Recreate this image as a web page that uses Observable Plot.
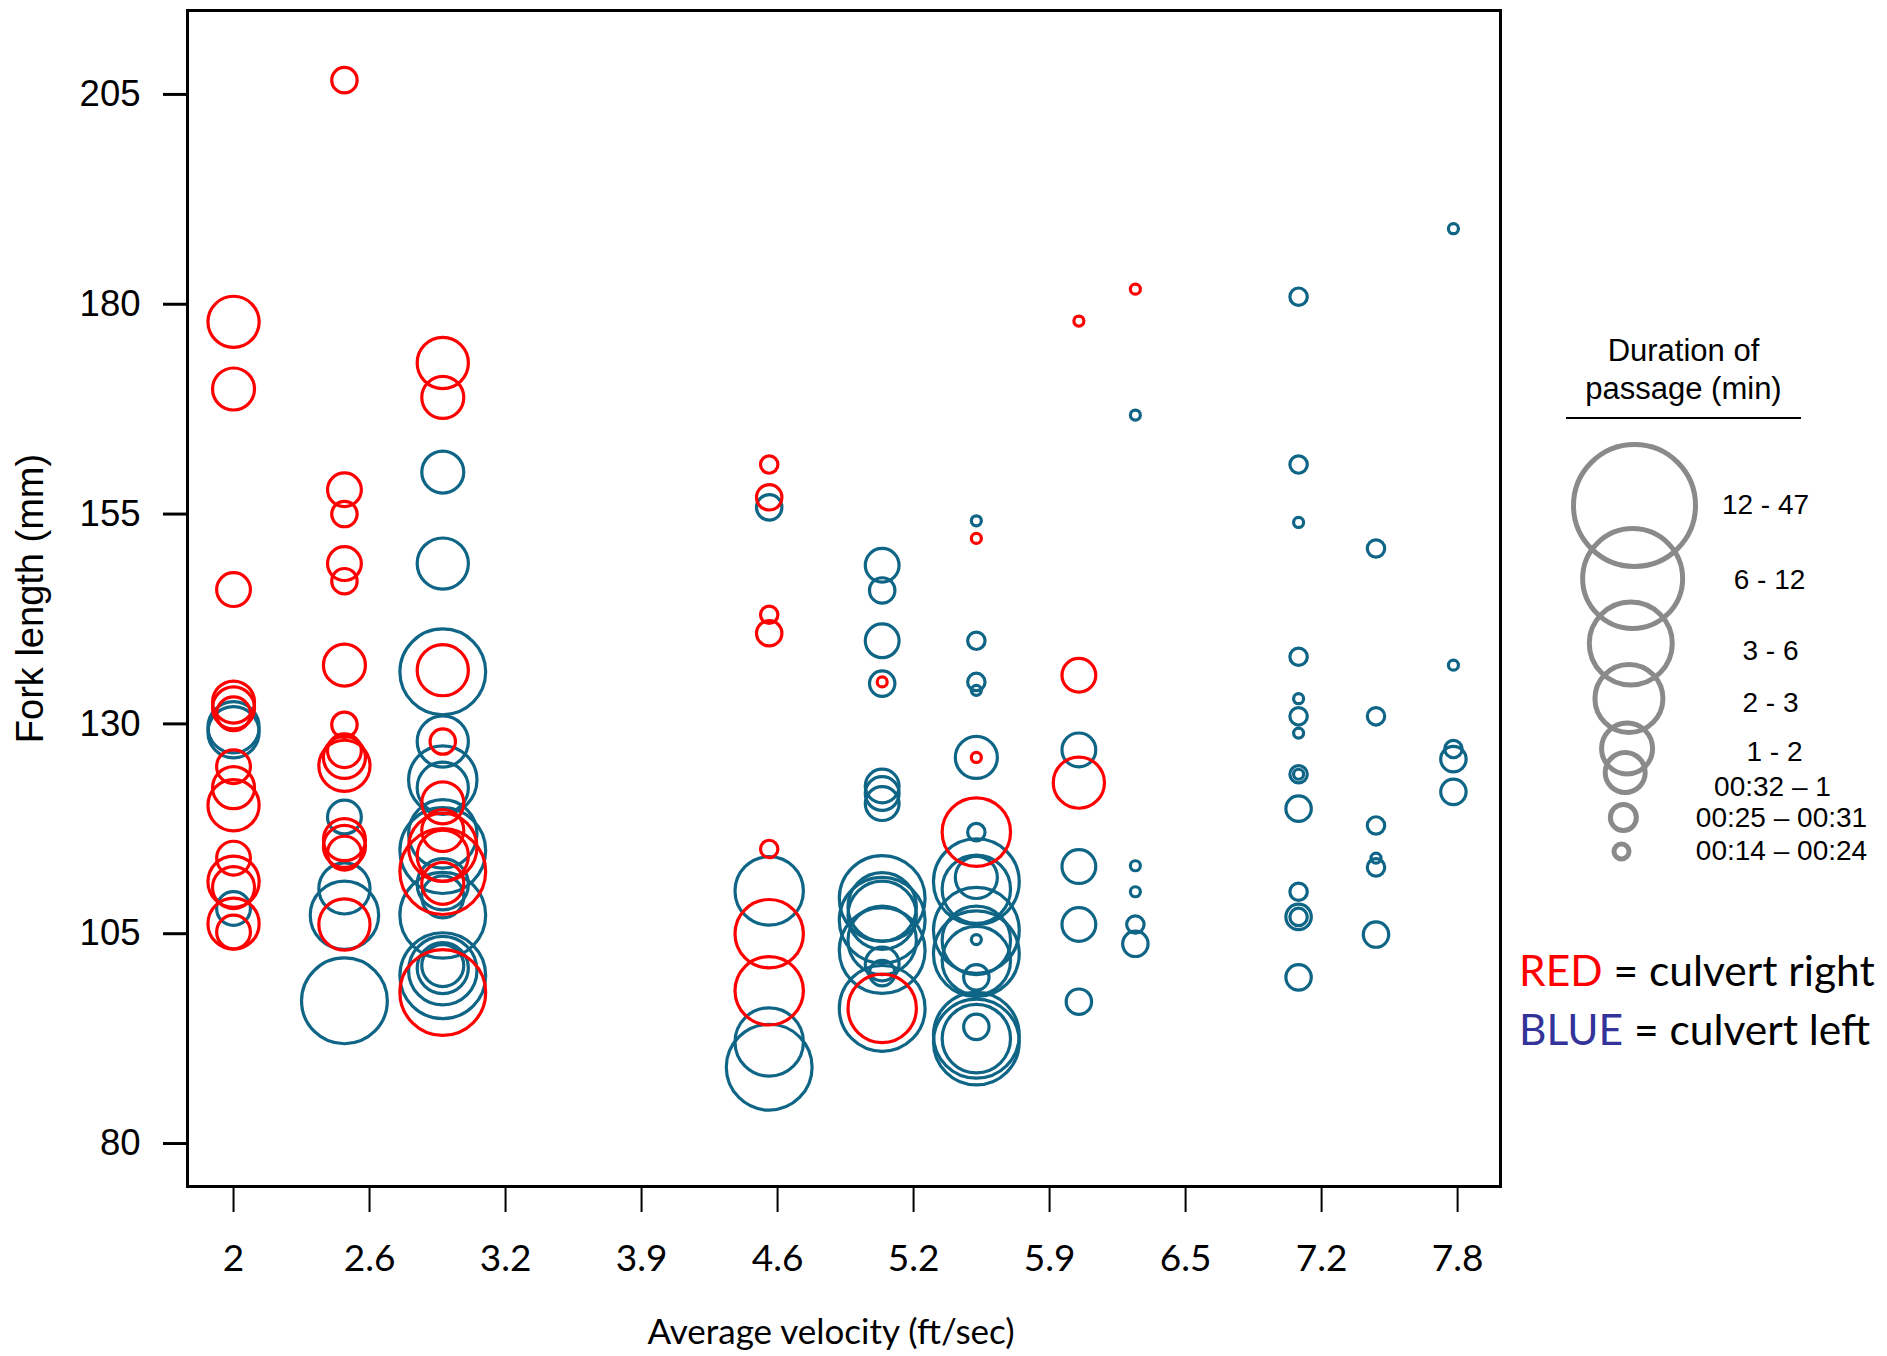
<!DOCTYPE html>
<html>
<head>
<meta charset="utf-8">
<script src="https://cdn.jsdelivr.net/npm/d3@7"></script>
<script src="https://cdn.jsdelivr.net/npm/@observablehq/plot@0.6"></script>
<style>
  body { margin: 0; background: #fff; }
  #wrap { position: relative; width: 1887px; height: 1356px; overflow: hidden; background: #fff; }
  #wrap svg { position: absolute; left: 0; top: 0; }
  .legend-title { position: absolute; left: 1566px; top: 332px; width: 235px; text-align: center;
    font-family: "Liberation Sans", Arial, sans-serif; font-size: 31px; line-height: 38px; color: #000;
    padding-bottom: 9px; border-bottom: 2px solid #000; white-space: nowrap; }
  .key { position: absolute; left: 1519px; font-family: Lato, "Open Sans", sans-serif; font-size: 42.5px;
    line-height: 42px; color: #000; white-space: nowrap; }
</style>
</head>
<body>
<div id="wrap"></div>
<script>
// ---- data ----
const durationClasses = ["00:14 – 00:24", "00:25 – 00:31", "00:32 – 1", "1 - 2", "2 - 3", "3 - 6", "6 - 12", "12 - 47"];
const velocityTicks = [2, 2.65, 3.3, 3.95, 4.6, 5.25, 5.9, 6.55, 7.2, 7.85];
const velocityTickLabels = ["2", "2.6", "3.2", "3.9", "4.6", "5.2", "5.9", "6.5", "7.2", "7.8"];
const lengthTicks = [80, 105, 130, 155, 180, 205];

// [average velocity (ft/s), fork length (mm), duration class index]
const culvertRight = [
  [2.0,177.9,5],[2.0,169.9,4],[2.0,146.0,3],[2.0,132.6,4],[2.0,131.9,4],[2.0,131.2,3],[2.0,124.9,3],
  [2.0,122.4,4],[2.0,120.3,5],[2.0,114.0,3],[2.0,111.2,5],[2.0,110.5,4],[2.0,106.2,5],[2.0,105.2,3],
  [2.53,206.7,2],[2.53,157.9,3],[2.53,155.0,2],[2.53,149.1,3],[2.53,147.0,2],[2.53,137.0,4],[2.53,129.9,2],
  [2.53,126.8,3],[2.53,126.0,4],[2.53,125.0,5],[2.53,116.2,4],[2.53,115.4,4],[2.53,114.6,3],[2.53,106.1,5],
  [3.0,173.0,5],[3.0,168.9,4],[3.0,136.4,5],[3.0,127.9,2],[3.0,120.6,4],[3.0,117.3,4],[3.0,115.3,6],
  [3.0,114.3,5],[3.0,112.4,7],[3.0,111.0,4],[3.0,98.0,7],
  [4.56,160.9,1],[4.56,157.0,2],[4.56,143.0,1],[4.56,140.8,2],[4.56,115.1,1],[4.56,105.0,6],[4.56,98.2,6],
  [5.10,135.0,0],[5.10,96.1,6],
  [5.55,152.1,0],[5.55,126.0,0],[5.55,117.1,6],
  [6.04,178.0,0],[6.04,135.8,3],[6.04,123.0,5],
  [6.31,181.8,0]
];
const culvertLeft = [
  [2.0,129.6,5],[2.0,129.0,5],[2.0,108.0,3],
  [2.53,118.9,3],[2.53,110.4,5],[2.53,107.2,6],[2.53,97.0,7],
  [3.0,160.0,4],[3.0,149.1,5],[3.0,136.2,7],[3.0,127.9,5],[3.0,123.3,6],[3.0,122.4,5],[3.0,116.9,6],
  [3.0,114.9,7],[3.0,110.9,5],[3.0,109.4,4],[3.0,107.2,7],[3.0,101.2,4],[3.0,100.9,5],[3.0,100.6,6],[3.0,100.0,7],
  [4.56,155.8,2],[4.56,110.1,6],[4.56,92.1,6],[4.56,89.1,7],
  [5.10,148.9,3],[5.10,145.9,2],[5.10,139.9,3],[5.10,134.8,2],[5.10,122.6,3],[5.10,121.7,3],[5.10,120.5,3],
  [5.10,109.2,7],[5.10,108.2,6],[5.10,107.2,6],[5.10,106.6,7],[5.10,104.2,6],[5.10,103.0,7],[5.10,101.4,3],
  [5.10,100.3,2],[5.10,96.1,7],
  [5.55,154.2,0],[5.55,139.9,1],[5.55,135.0,1],[5.55,134.0,0],[5.55,126.0,4],[5.55,117.1,1],[5.55,111.7,4],
  [5.55,111.2,7],[5.55,110.3,6],[5.55,105.4,7],[5.55,104.3,0],[5.55,104.2,6],[5.55,102.6,7],[5.55,101.8,6],
  [5.55,99.8,2],[5.55,93.9,2],[5.55,92.9,7],[5.55,92.5,6],[5.55,92.1,7],
  [6.04,126.9,3],[6.04,113.0,3],[6.04,106.1,3],[6.04,96.9,2],
  [6.31,166.8,0],[6.31,113.1,0],[6.31,110.0,0],[6.31,106.1,1],[6.31,103.8,2],
  [7.09,180.9,1],[7.09,160.9,1],[7.09,154.0,0],[7.09,138.0,1],[7.09,133.0,0],[7.09,130.9,1],[7.09,128.9,0],
  [7.09,124.0,1],[7.09,124.0,0],[7.09,119.9,2],[7.09,110.0,1],[7.09,107.0,2],[7.09,107.0,1],[7.09,99.8,2],
  [7.46,150.9,1],[7.46,130.9,1],[7.46,117.9,1],[7.46,114.0,0],[7.46,112.9,1],[7.46,104.9,2],
  [7.83,189.0,0],[7.83,137.0,0],[7.83,127.0,1],[7.83,125.8,2],[7.83,121.9,2]
];
const classIndex = durationClasses.map((d, i) => i);

// ---- styling ----
const RED = "#ff0000";
const BLUE = "#0f6585";
const tickLabel = new Map(velocityTicks.map((t, i) => [t, velocityTickLabels[i]]));

const wrap = document.getElementById("wrap");

const main = Plot.plot({
  width: 1887, height: 1356,
  marginLeft: 187, marginRight: 387, marginTop: 10, marginBottom: 170,
  style: {background: "transparent", overflow: "visible"},
  x: {domain: [1.78, 8.055]},
  y: {domain: [74.88, 215]},
  r: {type: "linear", domain: classIndex, range: [5, 8.7, 12.7, 16.9, 21, 25.6, 34.2, 42.9]},
  marks: [
    Plot.axisY({ticks: lengthTicks, tickSize: 24, tickPadding: 23, strokeWidth: 3, fontSize: 36.5,
      fontFamily: "Liberation Sans, Arial, sans-serif", fill: "#000", label: null}),
    Plot.axisX({ticks: velocityTicks, tickFormat: d => tickLabel.get(d), tickSize: 26, tickPadding: 32,
      strokeWidth: 2, fontSize: 37, fontFamily: "Lato, sans-serif", fill: "#000", label: null}),
    Plot.dot(culvertLeft, {x: d => d[0], y: d => d[1], r: d => d[2], stroke: BLUE, strokeWidth: 3.2, fill: "none"}),
    Plot.dot(culvertRight, {x: d => d[0], y: d => d[1], r: d => d[2], stroke: RED, strokeWidth: 3.2, fill: "none"}),
    Plot.frame({stroke: "#000", strokeWidth: 3}),
    Plot.text(["Fork length (mm)"], {frameAnchor: "left", textAnchor: "middle", dx: -157, rotate: -90, fontSize: 38,
      fontFamily: "Liberation Sans, Arial, sans-serif", fill: "#000"}),
    Plot.text(["Average velocity (ft/sec)"], {frameAnchor: "bottom", dy: 157, dx: -13, fontSize: 35,
      fontFamily: "Lato, sans-serif", fill: "#000"})
  ]
});
wrap.appendChild(main);

// size legend circles
const legendCircles = Plot.plot({
  width: 1887, height: 1356, margin: 0,
  style: {background: "transparent"},
  x: {type: "linear", domain: [0, 7], range: [1621, 1634], axis: null},
  y: {type: "linear", domain: classIndex, range: [851, 817, 772, 748, 698, 643, 578, 505], axis: null},
  r: {type: "linear", domain: classIndex, range: [7.5, 13, 20, 25.5, 34, 41.5, 50, 61]},
  marks: [
    Plot.dot(classIndex, {x: d => d, y: d => d, r: d => d, stroke: "#8a8a8a", strokeWidth: 5, fill: "none"})
  ]
});
wrap.appendChild(legendCircles);

// size legend labels
const legendLabels = Plot.plot({
  width: 1887, height: 1356, margin: 0,
  style: {background: "transparent"},
  x: {type: "linear", domain: classIndex, range: [1781, 1781, 1772, 1774, 1770, 1770, 1769, 1765], axis: null},
  y: {type: "linear", domain: classIndex, range: [851, 818, 787, 752, 703, 651, 580, 505], axis: null},
  marks: [
    Plot.text(classIndex, {x: d => d, y: d => d, text: d => durationClasses[d], fontSize: 28,
      fontFamily: "Liberation Sans, Arial, sans-serif", fill: "#000"})
  ]
});
wrap.appendChild(legendLabels);

const title = document.createElement("div");
title.className = "legend-title";
title.innerHTML = "Duration of<br>passage (min)";
wrap.appendChild(title);

const keyRed = document.createElement("div");
keyRed.className = "key";
keyRed.style.top = "949px";
keyRed.innerHTML = '<span style="color:#ff0000">RED</span> = culvert right';
wrap.appendChild(keyRed);

const keyBlue = document.createElement("div");
keyBlue.className = "key";
keyBlue.style.top = "1008px";
keyBlue.innerHTML = '<span style="color:#333399">BLUE</span> = culvert left';
wrap.appendChild(keyBlue);
</script>
</body>
</html>
